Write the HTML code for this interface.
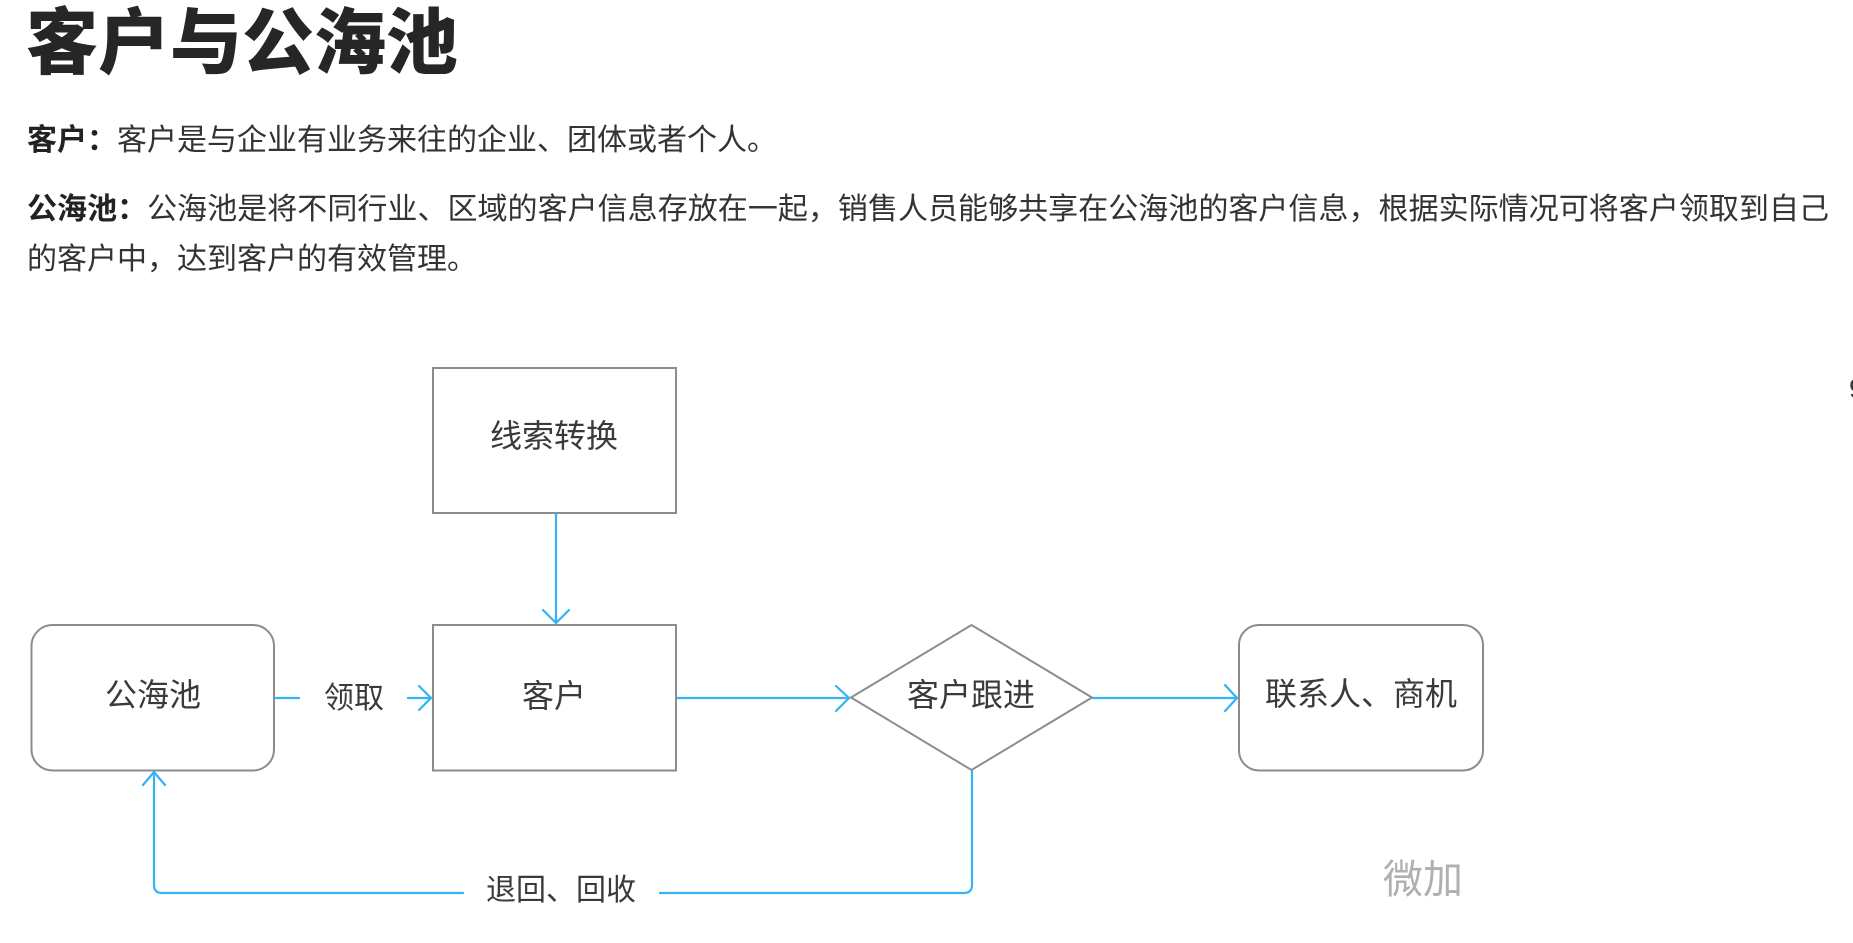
<!DOCTYPE html>
<html>
<head>
<meta charset="utf-8">
<style>
  html, body { margin:0; padding:0; background:#ffffff; }
  body { width:1853px; height:943px; position:relative; overflow:hidden;
         font-family:"Liberation Sans","Noto Sans CJK SC",sans-serif; color:#333; }
  .abs { position:absolute; white-space:nowrap; line-height:1; }
  .title { left:26px; top:8px; font-size:72px; font-weight:900; color:#262626; }
  .p { font-size:30px; color:#333; left:27px; }
  .p b { font-weight:700; color:#222; }
  .lbl { position:absolute; line-height:1; text-align:center; white-space:nowrap; color:#3a3a3a; }
  .n32 { font-size:32px; }
  .n30 { font-size:30px; }
</style>
</head>
<body>
<div class="abs title">客户与公海池</div>

<div class="abs p" style="top:126px;"><b>客户：</b>客户是与企业有业务来往的企业、团体或者个人。</div>
<div class="p" style="position:absolute; top:195px; width:1802px; line-height:1; text-align:justify; text-align-last:justify;"><b>公海池：</b>公海池是将不同行业、区域的客户信息存放在一起，销售人员能够共享在公海池的客户信息，根据实际情况可将客户领取到自己</div>
<div class="abs p" style="top:245px;">的客户中，达到客户的有效管理。</div>

<svg width="1853" height="943" viewBox="0 0 1853 943" style="position:absolute;left:0;top:0;">
  <g fill="#ffffff" stroke="#8c8c8c" stroke-width="2">
    <rect x="433" y="368" width="243" height="145"/>
    <rect x="433" y="625" width="243" height="145.5"/>
    <rect x="31.5" y="625" width="242.5" height="145.5" rx="21" ry="21"/>
    <rect x="1239" y="625" width="244" height="145.5" rx="20" ry="20"/>
    <polygon points="851,697.5 971.5,625 1092,697.5 971.5,770"/>
  </g>
  <g fill="none" stroke="#33b3f2" stroke-width="2.2" stroke-linecap="round" stroke-linejoin="round">
    <line x1="556" y1="514" x2="556" y2="623"/>
    <polyline points="543,610 556,623 569,610"/>
    <line x1="275" y1="698" x2="299" y2="698"/>
    <line x1="408" y1="698" x2="431" y2="698"/>
    <polyline points="419,686 431,698 419,710"/>
    <line x1="677" y1="698" x2="849" y2="698"/>
    <polyline points="836,686 849,698 836,711"/>
    <line x1="1093" y1="698" x2="1237" y2="698"/>
    <polyline points="1225,685 1237,698 1225,711"/>
    <path d="M972,771 L972,885 Q972,893 964,893 L660,893"/>
    <path d="M463,893 L162,893 Q154,893 154,885 L154,772"/>
    <polyline points="143,785 154,772 165,785"/>
  </g>
</svg>

<div class="lbl n32" style="left:454px; width:200px; top:420px;">线索转换</div>
<div class="lbl n32" style="left:454px; width:200px; top:680px;">客户</div>
<div class="lbl n32" style="left:53px; width:200px; top:679px;">公海池</div>
<div class="lbl n32" style="left:871px; width:200px; top:679px;">客户跟进</div>
<div class="lbl n32" style="left:1236px; width:250px; top:678px;">联系人、商机</div>
<div class="lbl n30" style="left:304px; width:100px; top:684px;">领取</div>
<div class="lbl n30" style="left:461px; width:200px; top:876px;">退回、回收</div>
<div class="lbl" style="left:1363px; width:120px; top:860px; font-size:40px; color:#b0b0b0;">微加</div>
<div class="abs" style="left:1849px; top:375px; font-size:28px; color:#333;">9</div>
</body>
</html>
